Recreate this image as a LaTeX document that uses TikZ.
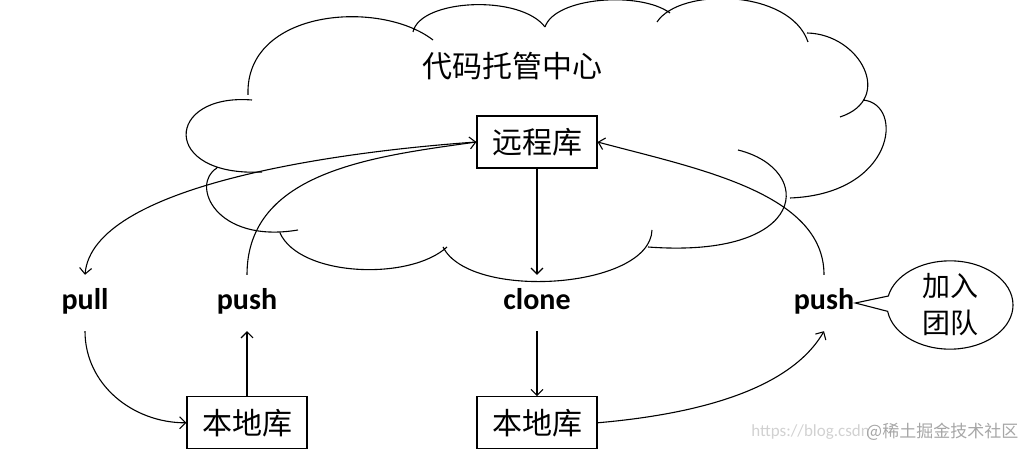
\documentclass[tikz,border=0pt]{standalone}
\usepackage{fontspec}
\setmainfont{Carlito}
\newfontfamily\cjk{Noto Sans CJK SC}
\usetikzlibrary{arrows.meta,positioning,shapes.callouts}
\tikzset{
  repo/.style={draw, line width=1.2pt, minimum width=120pt, minimum height=52pt, inner sep=0pt, font=\cjk\fontsize{30}{36}\selectfont},
  cmd/.style={inner xsep=1pt, inner ysep=15pt, text height=20pt, text depth=6pt, font=\bfseries\fontsize{30}{36}\selectfont},
  gitarrow/.style={-{Straight Barb[length=6pt,width=12pt]}, line width=1.1pt},
  cloudline/.style={line width=1.1pt}
}

\begin{document}
\begin{tikzpicture}[x=1pt, y=1pt]
\useasboundingbox (0,0) rectangle (1035,449);
\draw[cloudline]
  (252,349) .. controls (165,356) and (160,272) .. (262,277)
  (248,354) .. controls (245,440) and (380,450) .. (433,409)
  (413,417) .. controls (420,450) and (520,455) .. (545,422)
  (545,422) .. controls (555,452) and (640,458) .. (670,436)
  (657,427) .. controls (680,462) and (790,460) .. (808,407)
  (807,416) .. controls (860,415) and (895,350) .. (840,332)
  (863,349) .. controls (905,345) and (895,255) .. (790,251)
  (738,299) .. controls (815,280) and (810,190) .. (648,202)
  (652,219) .. controls (650,160) and (470,148) .. (443,202)
  (447,202) .. controls (410,168) and (300,172) .. (280,216)
  (298,219) .. controls (215,205) and (190,265) .. (217,281);
\node[font=\cjk\fontsize{30}{36}\selectfont] (hub) at (512,383) {代码托管中心};
\node[repo] (remote) at (537,307) {远程库};
\node[cmd] (pull) at (85,146) {pull};
\node[cmd] (pushA) at (247,146) {push};
\node[cmd] (clone) at (537,146) {clone};
\node[cmd] (pushB) at (824,146) {push};
\node[repo, below=65pt of pushA] (localA) {本地库};
\node[repo, below=65pt of clone] (localB) {本地库};
\node[ellipse callout, draw, line width=1.1pt, minimum width=126pt, minimum height=76pt, inner sep=0pt,
  callout absolute pointer={(pushB.east)}, callout pointer arc=20, align=center,
  font=\cjk\fontsize{28}{37}\selectfont] (team) at (950,144) {加入\\团队};
\node[anchor=east, text=black!18, inner sep=0pt, font=\fontsize{17}{20}\selectfont] (wmurl) at (870,17) {https://blog.csdn};
\node[anchor=west, text=black!35, inner sep=0pt, font=\cjk\fontsize{17}{20}\selectfont] (wmsite) at (866,17) {@稀土掘金技术社区};
\draw[gitarrow] (pushA.north) to[out=90, in=188] (remote.west);
\draw[gitarrow] (remote.west) to[out=184, in=85, out looseness=0.9, in looseness=0.55] (pull.north);
\draw[gitarrow] (remote.south) -- (clone.north);
\draw[gitarrow] (clone.south) -- (localB.north);
\draw[gitarrow] (localA.north) -- (pushA.south);
\draw[gitarrow] (pull.south) to[out=-90, in=180] (localA.west);
\draw[gitarrow] (localB.east) to[out=5, in=-120, looseness=0.8] (pushB.south);
\draw[gitarrow] (pushB.north) to[out=90, in=-15, out looseness=0.8] (remote.east);
\end{tikzpicture}
\end{document}
